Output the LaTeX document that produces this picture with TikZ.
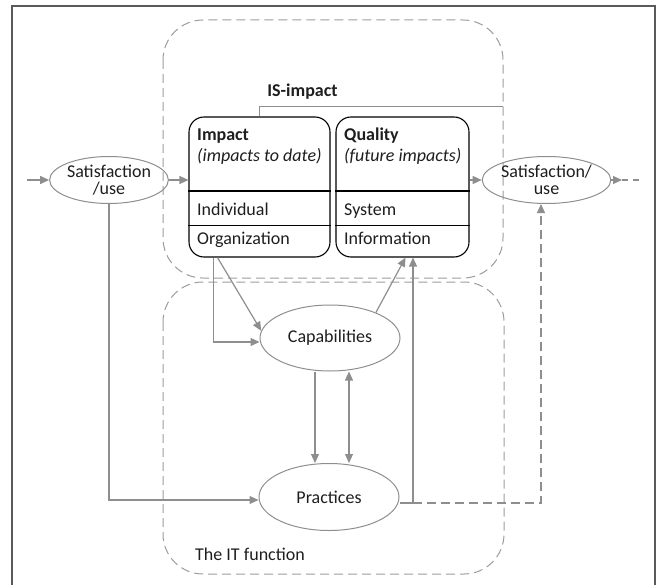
\documentclass[tikz,border=0pt]{standalone}
\usepackage{fontspec}
\setmainfont{Carlito}
\usetikzlibrary{arrows.meta,shapes.geometric}
\definecolor{arrgray}{HTML}{8E8E8E}
\definecolor{boxgray}{HTML}{9C9C9C}
\definecolor{framegray}{HTML}{5A5A5A}
\definecolor{txtgray}{HTML}{1E1E1E}
\tikzset{
	flow/.style={draw=arrgray,line width=1.2pt,-{Triangle[length=9pt,width=8pt]}},
	itbox/.style={draw=boxgray,line width=1pt,dash pattern=on 9pt off 5pt,rounded corners=40pt},
	infobox/.style={draw=black,line width=1.1pt,rounded corners=15pt,minimum width=141pt,minimum height=140pt,inner sep=0pt},
	ovalnode/.style={ellipse,draw=arrgray,line width=1pt,inner sep=0pt,align=center,text=txtgray,font=\fontsize{18}{17}\selectfont},
	lbl/.style={anchor=base west,inner sep=0pt,text=txtgray,font=\fontsize{18}{21}\selectfont},
}
\begin{document}
\begin{tikzpicture}[x=1pt,y=-1pt,line cap=butt,line join=miter]
	\useasboundingbox (0,0) rectangle (660,585);
	%khung
	\draw[framegray,line width=1.3pt] (12,600) -- (12,6) -- (655,6) -- (655,600);
	
	%vung IS-impact va IT function
	\draw[itbox] (163,20) rectangle (503,278);
	\draw[itbox] (163,282) rectangle (504,574);
	\node[lbl] (itlabel) at (195,560) {The IT function};
	
	%hai hop
	\begin{scope}
		\node[infobox] (impact) at (259.5,187) {};
		\draw[line width=1.1pt] (impact.west |- 0,191) -- (impact.east |- 0,191);
		\draw[line width=1.1pt] (impact.west |- 0,225.5) -- (impact.east |- 0,225.5);
		\node[lbl] (impT) at (197,140.7) {\bfseries Impact};
		\node[lbl] (impS) at (197,161.7) {\itshape (impacts to date)};
		\node[lbl] (impI) at (197,215.7) {Individual};
		\node[lbl] (impO) at (197,244) {Organization};
	\end{scope}
	\begin{scope}
		\node[infobox,minimum width=133pt] (quality) at (402.5,187) {};
		\draw[line width=1.1pt] (quality.west |- 0,191) -- (quality.east |- 0,191);
		\draw[line width=1.1pt] (quality.west |- 0,225.5) -- (quality.east |- 0,225.5);
		\node[lbl] (quaT) at (344,140.7) {\bfseries Quality};
		\node[lbl] (quaS) at (344,161.7) {\itshape (future impacts)};
		\node[lbl] (quaI) at (344,215.7) {System};
		\node[lbl] (quaO) at (344,244) {Information};
	\end{scope}
	
	%IS-impact
	\coordinate (isR) at (503,106.5);
	\draw[arrgray,line width=1pt] (impact.north) |- (isR);
	\node[lbl,anchor=base] (islabel) at (302.5,97) {\bfseries IS-impact};
	
	%hinh bau duc
	\node[ovalnode,minimum width=112pt,minimum height=47pt] (satL) at (109,180) {Satisfaction\\/use};
	\node[ovalnode,minimum width=111pt,minimum height=47pt] (satR) at (546.5,180) {Satisfaction/\\use};
	\node[ovalnode,minimum width=140pt,minimum height=66pt,font=\fontsize{18}{21}\selectfont] (cap) at (330,338) {Capabilities};
	\node[ovalnode,minimum width=140pt,minimum height=67pt,font=\fontsize{18}{21}\selectfont] (prac) at (329,497) {Practices};
	
	%mui ten
	\coordinate (inL) at (27,180);
	\coordinate (outR) at (622,180);
	\coordinate (outE) at (642,180);
	\coordinate (pj) at (413,503);
	\draw[flow] (inL) -- (satL);
	\draw[flow] (satL.east) -- (satL.east -| impact.west);
	\draw[flow] (quality.east |- satR) -- (satR.west);
	\draw[flow] (satR.east) -- (outR);
	\draw[arrgray,line width=1.2pt,dash pattern=on 6pt off 5pt] (outR) -- (outE);
	\draw[flow] (satL.south) |- ([yshift=-3pt]prac.west);
	\draw[flow] ([xshift=-46pt]impact.south) |- ([yshift=-4pt]cap.west);
	\draw[flow] ([xshift=-42pt]impact.south) -- (cap.174);
	\draw[flow] (cap.29) -- ([xshift=3pt]quality.south);
	\draw[flow] ([xshift=-15pt]cap.south) -- ([xshift=-14pt]prac.north);
	\draw[flow,{Triangle[length=9pt,width=8pt]}-{Triangle[length=9pt,width=8pt]}] ([xshift=19pt]cap.south) -- ([xshift=20pt]prac.north);
	\draw[flow] ([yshift=-6pt]prac.east) -- (pj) -- ([xshift=10.5pt]quality.south);
	\draw[flow,dash pattern=on 9pt off 5pt] (pj) -| ([xshift=-5.5pt]satR.south);
\end{tikzpicture}
\end{document}
